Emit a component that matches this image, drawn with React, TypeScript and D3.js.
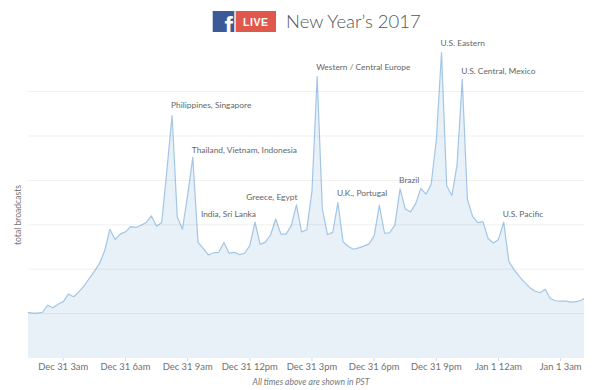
import React, { useEffect, useRef } from "react"
import * as d3 from "d3"

// broadcasts every 15 minutes, starting Dec 31 1:15am PST (units = one gridline)
const startTime = new Date(2016, 11, 31, 1, 15)
const stepMinutes = 15
const broadcasts = [
  1.03, 1.01, 1.01, 1.03, 1.19, 1.13, 1.21, 1.27, 1.44, 1.38,
  1.49, 1.62, 1.79, 1.95, 2.13, 2.42, 2.9, 2.67, 2.79, 2.84,
  2.96, 2.94, 2.99, 3.05, 3.2, 2.97, 3.05, 4.23, 5.46, 3.18,
  2.9, 3.67, 4.52, 2.61, 2.47, 2.32, 2.37, 2.38, 2.6, 2.36,
  2.38, 2.33, 2.36, 2.53, 3.06, 2.56, 2.61, 2.77, 3.13, 2.79,
  2.79, 2.98, 3.45, 2.84, 2.89, 3.76, 6.34, 3.36, 2.78, 2.83,
  3.5, 2.62, 2.51, 2.45, 2.48, 2.52, 2.57, 2.75, 3.44, 2.81,
  2.82, 3.0, 3.81, 3.36, 3.29, 3.47, 3.82, 3.69, 3.91, 4.91,
  6.88, 3.88, 3.66, 4.35, 6.28, 3.57, 3.19, 3.05, 3.07, 2.69,
  2.59, 2.67, 3.06, 2.17, 1.99, 1.84, 1.71, 1.59, 1.51, 1.47,
  1.55, 1.34, 1.29, 1.28, 1.28, 1.26, 1.27, 1.3, 1.38,
]

const gridValues = [1, 2, 3, 4, 5, 6]
// tick times in hours after Dec 31 00:00
const tickHours = [3, 6, 9, 12, 15, 18, 21, 24, 27]

// label, hour of the peak it belongs to, text anchor, vertical offset
const annotations = [
  { label: "Philippines, Singapore", hour: 8.25, anchor: "start", dy: -8 },
  { label: "Thailand, Vietnam, Indonesia", hour: 9.25, anchor: "start", dy: -4 },
  { label: "India, Sri Lanka", hour: 12.25, anchor: "end", dy: -5 },
  { label: "Greece, Egypt", hour: 14.25, anchor: "end", dy: -5 },
  { label: "Western / Central Europe", hour: 15.25, anchor: "start", dy: -7 },
  { label: "U.K., Portugal", hour: 16.25, anchor: "start", dy: -7 },
  { label: "Brazil", hour: 19.25, anchor: "start", dy: -5.5 },
  { label: "U.S. Eastern", hour: 21.25, anchor: "start", dy: -7 },
  { label: "U.S. Central, Mexico", hour: 22.25, anchor: "start", dy: -5 },
  { label: "U.S. Pacific", hour: 24.25, anchor: "start", dy: -5 },
]

const fmtTick = (d: Date) => {
  const h = d.getHours()
  return `${d3.timeFormat("%b %-d")(d)} ${h % 12 || 12}${h < 12 ? "am" : "pm"}`
}

const App = () => {
  const ref = useRef<SVGSVGElement>(null)

  useEffect(() => {
    const svg = d3.select(ref.current)
    svg.selectAll("*").remove()

    const data = broadcasts.map((v, i) => ({
      date: d3.timeMinute.offset(startTime, i * stepMinutes),
      value: v,
    }))
    const hourDate = (h: number) => d3.timeMinute.offset(new Date(2016, 11, 31), h * 60)

    const left = 28
    const right = 584
    const bottom = 358

    const x = d3
      .scaleTime()
      .domain(d3.extent(data, (d) => d.date) as [Date, Date])
      .range([27, 586.6])
    const y = d3.scaleLinear().domain([0, 7]).range([bottom, 47.2])

    svg
      .append("defs")
      .append("clipPath")
      .attr("id", "plot-clip")
      .append("rect")
      .attr("x", left)
      .attr("y", 0)
      .attr("width", right - left)
      .attr("height", bottom)

    const plot = svg.append("g").attr("clip-path", "url(#plot-clip)")

    const area = d3
      .area<{ date: Date; value: number }>()
      .x((d) => x(d.date))
      .y0(bottom)
      .y1((d) => y(d.value))

    const line = d3
      .line<{ date: Date; value: number }>()
      .x((d) => x(d.date))
      .y((d) => y(d.value))

    plot.append("path").attr("d", area(data)).attr("fill", "#e8f0f8")

    svg
      .append("g")
      .selectAll("line")
      .data(gridValues)
      .join("line")
      .attr("x1", left)
      .attr("x2", right)
      .attr("y1", (d) => y(d))
      .attr("y2", (d) => y(d))
      .attr("stroke", "#000")
      .attr("stroke-opacity", 0.06)

    plot
      .append("path")
      .attr("d", line(data))
      .attr("fill", "none")
      .attr("stroke", "#a3c6e6")
      .attr("stroke-width", 1.2)
      .attr("stroke-linejoin", "round")

    // x ticks
    const ticks = svg.append("g").attr("font-family", "Lato, sans-serif")
    tickHours.forEach((h) => {
      const d = hourDate(h)
      ticks
        .append("line")
        .attr("x1", x(d))
        .attr("x2", x(d))
        .attr("y1", bottom)
        .attr("y2", bottom + 3)
        .attr("stroke", "#d8d8d8")
      ticks
        .append("text")
        .attr("x", x(d))
        .attr("y", 370)
        .attr("text-anchor", "middle")
        .attr("font-size", 9.4)
        .attr("fill", "#707070")
        .text(fmtTick(d))
    })

    // annotations
    const byTime = new Map(data.map((d) => [d.date.getTime(), d.value]))
    svg
      .append("g")
      .attr("font-family", "Lato, sans-serif")
      .attr("font-size", 8.4)
      .attr("fill", "#666")
      .selectAll("text")
      .data(annotations)
      .join("text")
      .attr("x", (d) => x(hourDate(d.hour)) + (d.anchor === "end" ? 1 : -1))
      .attr("y", (d) => y(byTime.get(hourDate(d.hour).getTime()) ?? 0) + d.dy)
      .attr("text-anchor", (d) => d.anchor)
      .text((d) => d.label)

    svg
      .append("text")
      .attr("transform", `translate(20.5, 215) rotate(-90)`)
      .attr("text-anchor", "middle")
      .attr("font-family", "Lato, sans-serif")
      .attr("font-size", 8.6)
      .attr("fill", "#777")
      .text("total broadcasts")

    svg
      .append("text")
      .attr("x", 311)
      .attr("y", 384.5)
      .attr("text-anchor", "middle")
      .attr("font-family", "Lato, sans-serif")
      .attr("font-style", "italic")
      .attr("font-size", 8.6)
      .attr("fill", "#777")
      .text("All times above are shown in PST")

    // title with logo
    const title = svg.append("g")
    title
      .append("clipPath")
      .attr("id", "fb-clip")
      .append("rect")
      .attr("x", 212.7)
      .attr("y", 11)
      .attr("width", 21.6)
      .attr("height", 21)
    title
      .append("rect")
      .attr("x", 212.7)
      .attr("y", 11)
      .attr("width", 21.6)
      .attr("height", 21)
      .attr("fill", "#3d5a98")
    title
      .append("text")
      .attr("x", 228.6)
      .attr("y", 35)
      .attr("clip-path", "url(#fb-clip)")
      .attr("text-anchor", "middle")
      .attr("font-family", "'Liberation Sans', Arial, sans-serif")
      .attr("font-weight", "bold")
      .attr("font-size", 25)
      .attr("fill", "#fff")
      .text("f")
    title
      .append("rect")
      .attr("x", 235.7)
      .attr("y", 11)
      .attr("width", 40.3)
      .attr("height", 21)
      .attr("fill", "#e0574c")
    title
      .append("text")
      .attr("x", 255.8)
      .attr("y", 25.8)
      .attr("text-anchor", "middle")
      .attr("font-family", "'Liberation Sans', Arial, sans-serif")
      .attr("font-weight", "bold")
      .attr("font-size", 10.5)
      .attr("letter-spacing", 0.6)
      .attr("fill", "#fff")
      .text("LIVE")
    title
      .append("text")
      .attr("x", 286)
      .attr("y", 28.3)
      .attr("font-family", "Lato, sans-serif")
      .attr("font-weight", 300)
      .attr("font-size", 18.5)
      .attr("fill", "#555")
      .text("New Year\u2019s 2017")
  }, [])

  return (
    <>
      <style>{`body { margin: 0; }`}</style>
      <svg ref={ref} width={601} height={390} style={{ display: "block", background: "#fff" }} />
    </>
  )
}

export default App
